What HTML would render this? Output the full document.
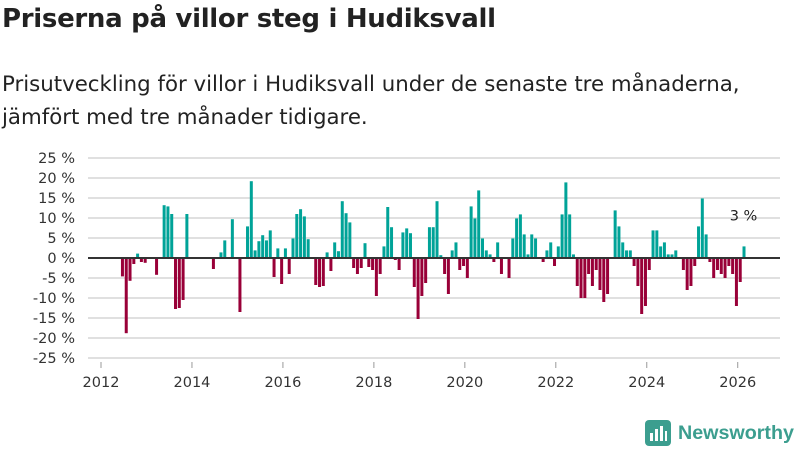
<!DOCTYPE html>
<html><head><meta charset="utf-8"><style>
body{margin:0;width:800px;height:450px;background:#fff;font-family:"DejaVu Sans","Liberation Sans",sans-serif;overflow:hidden;position:relative}
#title{position:absolute;left:2px;top:4px;font-size:26px;font-weight:bold;color:#222;letter-spacing:-0.3px}
#sub{position:absolute;left:2px;top:68px;font-size:21.3px;line-height:33px;color:#222}
svg{position:absolute;left:0;top:0}
</style></head><body>
<div id="title">Priserna på villor steg i Hudiksvall</div>
<div id="sub">Prisutveckling för villor i Hudiksvall under de senaste tre månaderna,<br>jämfört med tre månader tidigare.</div>
<svg id="chart" width="800" height="450"></svg>
<script>
const startYear = 2012;
const values = [
null,null,null,null,null,-4.6,-18.8,-5.7,-1.5,1.1,-1,-1.2,
null,null,-4.2,null,13.2,12.9,11,-12.75,-12.5,-10.5,11,null,
null,null,null,null,null,-2.75,null,1.4,4.4,null,9.7,null,
-13.5,null,7.9,19.2,1.9,4.2,5.7,4.4,6.9,-4.75,2.4,-6.5,
2.4,-4,4.9,11,12.2,10.4,4.7,null,-6.75,-7.25,-7,1.4,
-3.25,3.9,1.7,14.2,11.2,8.9,-2.5,-4,-2.5,3.7,-2.25,-3,
-9.5,-4,2.9,12.75,7.7,-0.5,-3,6.4,7.4,6.2,-7.25,-15.25,
-9.5,-6.25,7.7,7.7,14.2,0.7,-4,-9,1.9,3.9,-3,-2,
-5,12.9,9.9,16.9,4.9,1.9,0.9,-1,3.9,-4,null,-5,
4.9,9.9,10.9,5.9,0.9,5.9,4.9,null,-1,1.9,3.9,-2,
2.9,10.9,18.9,10.9,0.9,-7,-10,-10,-4,-7,-3,-8,
-11,-9,null,11.9,7.9,3.9,1.9,1.9,-2,-7,-14,-12,
-3,6.9,6.9,2.9,3.9,0.9,0.9,1.9,null,-3,-8,-7,
-2,7.9,14.9,5.9,-1,-5,-3,-4,-5,-2,-4,-12,
-6,2.9
];
const yTicks = [25,20,15,10,5,0,-5,-10,-15,-20,-25];
const xTicks = [2012,2014,2016,2018,2020,2022,2024,2026];
const lastLabel = "3 %";

const NS="http://www.w3.org/2000/svg";
const svg=document.getElementById('chart');
const FF='DejaVu Sans, Liberation Sans, sans-serif';
function y(v){return 258 - v*4;}
function x(i){return 102 + i*3.79;}
function mk(t,a){const e=document.createElementNS(NS,t);for(const k in a)e.setAttribute(k,a[k]);svg.appendChild(e);return e;}
yTicks.forEach(v=>{
  const g=mk('line',{x1:88,x2:780,y1:y(v),y2:y(v),stroke:'#e0e0e0','stroke-width':2});
  
  
  const t=mk('text',{x:75,y:y(v)+5,'text-anchor':'end','font-size':14.5,fill:'#333','font-family':FF});
  t.textContent=v+' %';
  
  
});
values.forEach((v,i)=>{
  if(v===null)return;
  const r=mk('rect',{x:x(i),width:3,y:Math.min(y(v),y(0)),height:Math.abs(y(v)-y(0)),fill:v>=0?'#00a398':'#990038'});
  
  
});
const z=mk('line',{x1:88,x2:780,y1:y(0),y2:y(0),stroke:'#333','stroke-width':2});


xTicks.forEach(yr=>{
  const i=(yr-startYear)*12;
  const px=x(i)-1;
  const tk=mk('line',{x1:px,x2:px,y1:362,y2:368,stroke:'#999','stroke-width':1});
  
  
  const t=mk('text',{x:px,y:387,'text-anchor':'middle','font-size':14.5,fill:'#333','font-family':FF});
  t.textContent=yr;
  
  
});
const li=values.length-1;
const lt=mk('text',{x:x(li)+1,y:y(values[li])-26,'text-anchor':'middle','font-size':14.5,fill:'#222','font-family':FF});
lt.textContent=lastLabel;


</script>
<div style="position:absolute;left:645px;top:420px;display:flex;align-items:center">
<svg width="26" height="26" style="position:static"><rect x="0" y="0" width="26" height="26" rx="4" fill="#3c9e8f"/><rect x="5" y="13" width="3" height="8" fill="#fff"/><rect x="10" y="9" width="3" height="12" fill="#fff"/><rect x="15" y="6" width="3" height="15" fill="#fff"/><rect x="20" y="11" width="2" height="10" fill="#fff"/></svg>
<span style="margin-left:7px;font-size:19.7px;color:#3c9e8f;font-weight:bold;font-family:'Liberation Sans',sans-serif">Newsworthy</span></div>
</body></html>
